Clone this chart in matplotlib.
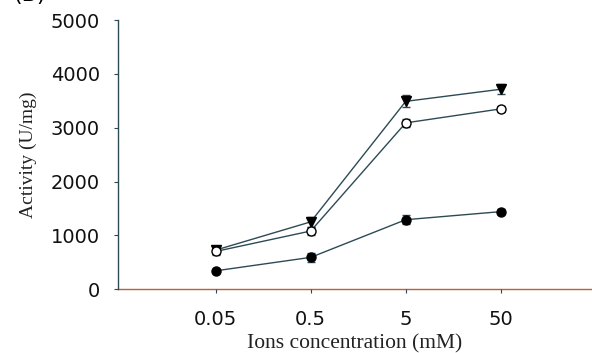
import matplotlib.pyplot as plt
import numpy as np

# data
conc_labels = ['0.05', '0.5', '5', '50']
tri_vals = [725, 1250, 3490, 3715]
tri_err = [70, 90, 110, 90]
open_vals = [700, 1080, 3090, 3350]
open_err = [60, 70, 70, 60]
fill_vals = [340, 590, 1290, 1440]
fill_err = [40, 90, 80, 50]

line_col = '#2e4a55'

fig = plt.figure(figsize=(5.92, 3.53), dpi=100)
ax = fig.add_axes([0.199, 0.181, 0.801, 0.762])

x = np.arange(1, len(conc_labels) + 1)
ax.errorbar(x, tri_vals, yerr=tri_err, color=line_col, lw=1.0, marker='v',
            ms=6.5, mfc='black', mec='black', ecolor=line_col, elinewidth=1,
            capsize=3, zorder=3)
ax.errorbar(x, open_vals, yerr=open_err, color=line_col, lw=1.0, marker='o',
            ms=6.5, mfc='white', mec='black', ecolor=line_col, elinewidth=1,
            capsize=3, zorder=3)
ax.errorbar(x, fill_vals, yerr=fill_err, color=line_col, lw=1.0, marker='o',
            ms=6.5, mfc='black', mec='black', ecolor=line_col, elinewidth=1,
            capsize=3, zorder=3)

ax.set_xlim(-0.03, 4.96)
ax.set_ylim(0, 5000)
ax.set_xticks(x)
ax.set_xticklabels(conc_labels)
ax.set_yticks([0, 1000, 2000, 3000, 4000, 5000])

ax.spines['top'].set_visible(False)
ax.spines['right'].set_visible(False)
ax.spines['left'].set_color(line_col)
ax.spines['bottom'].set_color('#b8603c')
ax.spines['left'].set_linewidth(1.0)
ax.spines['bottom'].set_linewidth(1.0)
ax.spines['bottom'].set_zorder(1)

ax.tick_params(axis='y', length=3, color=line_col, labelsize=14, pad=10)
ax.tick_params(axis='x', length=3, color=line_col, labelsize=14, pad=12)
for lab in ax.get_xticklabels() + ax.get_yticklabels():
    lab.set_family('DejaVu Sans')
    lab.set_color('#111111')

ax.set_ylabel('Activity (U/mg)', family='Liberation Serif', fontsize=14,
              color='#222222', labelpad=10)
ax.set_xlabel('Ions concentration (mM)', family='Liberation Serif', fontsize=15.5,
              color='#222222', labelpad=4)

fig.text(13 / 592, 1 - 5 / 353, '(B)', fontsize=16, family='DejaVu Sans',
         va='bottom', ha='left')

fig.savefig('out.png', dpi=100)
